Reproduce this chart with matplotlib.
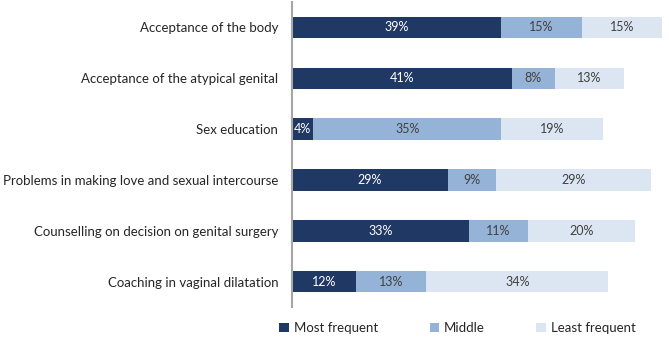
import matplotlib
matplotlib.use("Agg")
import matplotlib.pyplot as plt
from matplotlib.patches import Patch
import numpy as np

categories = [
    "Acceptance of the body",
    "Acceptance of the atypical genital",
    "Sex education",
    "Problems in making love and sexual intercourse",
    "Counselling on decision on genital surgery",
    "Coaching in vaginal dilatation",
]
most_frequent = [39, 41, 4, 29, 33, 12]
middle = [15, 8, 35, 9, 11, 13]
least_frequent = [15, 13, 19, 29, 20, 34]
series_names = ["Most frequent", "Middle", "Least frequent"]

colors = ["#1F3864", "#95B3D7", "#DCE6F2"]
text_colors = ["white", "#404040", "#404040"]

plt.rcParams['font.family'] = ['Lato', 'DejaVu Sans']

fig = plt.figure(figsize=(6.69, 3.39), dpi=100)
ax = fig.add_axes([0.4365, 0.094, 0.5635, 0.9])

y = np.arange(len(categories))
left = np.zeros(len(categories))
for vals, c, tc, name in zip([most_frequent, middle, least_frequent], colors, text_colors, series_names):
    vals = np.array(vals, dtype=float)
    ax.barh(y, vals, left=left, height=0.42, color=c, label=name)
    for yi, l, v in zip(y, left, vals):
        ax.text(l + v / 2, yi, f"{int(v)}%", ha="center", va="center", color=tc, fontsize=9)
    left += vals

ax.set_xlim(0, 70.3)
ax.set_ylim(len(categories) - 0.5, -0.5)
ax.set_yticks(y)
ax.set_yticklabels(categories, fontsize=9.5, color="#262626")
ax.tick_params(axis="y", length=0, pad=10)
ax.set_xticks([])
for s in ["top", "right", "bottom"]:
    ax.spines[s].set_visible(False)
ax.spines["left"].set_color("#A6A6A6")
ax.spines["left"].set_linewidth(1.5)

handles = [Patch(facecolor=c, edgecolor="none") for c in colors]
fig.legend(handles, series_names, loc="center", bbox_to_anchor=(0.684, 0.033), ncol=3,
           frameon=False, fontsize=9.5, handlelength=0.7, handleheight=0.7,
           handletextpad=0.4, columnspacing=3.9, labelcolor="#262626")

fig.savefig("out.png", dpi=100)
